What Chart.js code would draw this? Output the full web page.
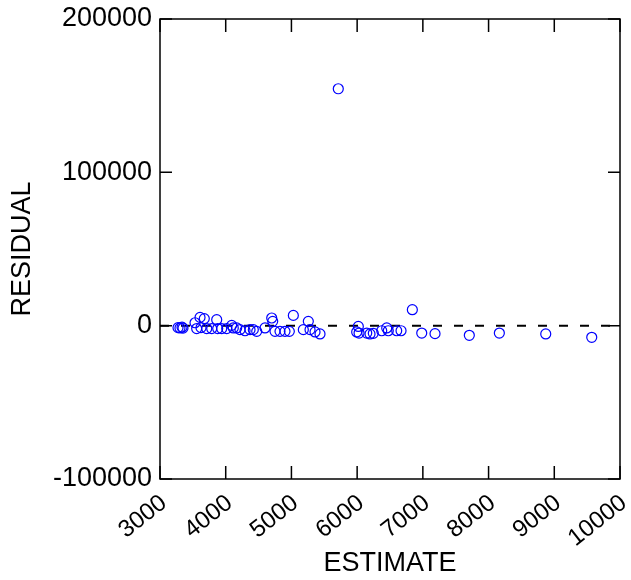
<!DOCTYPE html>
<html>
<head>
<meta charset="utf-8">
<script src="https://cdn.jsdelivr.net/npm/chart.js@4"></script>
<style>
  html, body { margin: 0; padding: 0; background: #fff; }
  canvas { display: block; }
</style>
</head>
<body>
<canvas id="residChart" width="631" height="580"></canvas>
<script>
// data
const estimate = [
  3274, 3304, 3335, 3350, 3533, 3558, 3609, 3674, 3624, 3711,
  3787, 3863, 3878, 3939, 4015, 4091, 4115, 4167, 4217, 4294,
  4370, 4420, 4472, 4598, 4700, 4715, 4750, 4826, 4902, 4968,
  5029, 5181, 5257, 5283, 5359, 5435, 5713, 5993, 6018, 6029,
  6146, 6196, 6246, 6374, 6450, 6474, 6602, 6668, 6840, 6983,
  7185, 7707, 8164, 8870, 9570
];
const residual = [
  -1300, -1500, -1000, -1600, 1900, -1900, 5400, 4600, -1300, -1900,
  -1900, 3900, -1900, -1900, -1900, 200, -1500, -1500, -2600, -3300,
  -2600, -2600, -3700, -1500, 5000, 2800, -3700, -3700, -3700, -3700,
  6700, -2600, 2800, -2600, -4100, -5400, 154500, -4100, -500, -4800,
  -4800, -5400, -5000, -3300, -1500, -3300, -3300, -3300, 10400, -4800,
  -5200, -6300, -4800, -5400, -7600
];
const xTicks = [3000, 10000, 1000];      // min, max, step
const yTicks = [-100000, 200000, 100000];

const points = estimate.map((x, i) => ({ x: x, y: residual[i] }));
const zeroLine = [{ x: xTicks[0], y: 0 }, { x: xTicks[1], y: 0 }];

const FONT = "'Liberation Sans', Arial, sans-serif";

// frame box + inward ticks on all four sides
const framePlugin = {
  id: "frame",
  afterDraw(chart) {
    const { ctx, chartArea: a, scales } = chart;
    ctx.save();
    ctx.strokeStyle = "#000";
    ctx.lineWidth = 1.5;
    ctx.strokeRect(a.left, a.top, a.right - a.left, a.bottom - a.top);
    ctx.beginPath();
    scales.x.ticks.forEach((t) => {
      const px = scales.x.getPixelForValue(t.value);
      ctx.moveTo(px, a.bottom); ctx.lineTo(px, a.bottom - 13);
      ctx.moveTo(px, a.top); ctx.lineTo(px, a.top + 13);
    });
    scales.y.ticks.forEach((t) => {
      const py = scales.y.getPixelForValue(t.value);
      ctx.moveTo(a.left, py); ctx.lineTo(a.left + 12, py);
      ctx.moveTo(a.right, py); ctx.lineTo(a.right - 12, py);
    });
    ctx.stroke();
    ctx.restore();
  },
};

new Chart(document.getElementById("residChart"), {
  type: "scatter",
  data: {
    datasets: [
      {
        label: "RESIDUAL",
        data: points,
        pointStyle: "circle",
        pointRadius: 5,
        pointBorderWidth: 1.2,
        pointBorderColor: "#0000ff",
        pointBackgroundColor: "rgba(0,0,0,0)",
        order: 1,
      },
      {
        type: "line",
        label: "zero",
        data: zeroLine,
        borderColor: "#000",
        borderWidth: 2,
        borderDash: [9, 12],
        pointRadius: 0,
        order: 2,
      },
    ],
  },
  options: {
    responsive: false,
    animation: false,
    layout: { padding: { top: 19, right: 11, bottom: 0, left: 0 } },
    plugins: { legend: { display: false }, tooltip: { enabled: false } },
    scales: {
      x: {
        type: "linear",
        min: xTicks[0],
        max: xTicks[1],
        grid: { display: false, drawTicks: false },
        border: { display: false },
        ticks: {
          stepSize: xTicks[2],
          autoSkip: false,
          maxRotation: 38,
          minRotation: 38,
          padding: 10,
          labelOffset: 4,
          color: "#000",
          font: { family: FONT, size: 24 },
          callback: (v) => String(v),
        },
        title: {
          display: true,
          text: "ESTIMATE",
          color: "#000",
          font: { family: FONT, size: 27 },
          padding: { top: 0, bottom: 0 },
        },
        afterFit(scale) {
          scale.height = 101;
          scale.paddingLeft = 0;
          scale.paddingRight = 0;
        },
      },
      y: {
        type: "linear",
        min: yTicks[0],
        max: yTicks[1],
        grid: { display: false, drawTicks: false },
        border: { display: false },
        ticks: {
          stepSize: yTicks[2],
          padding: 8,
          color: "#000",
          font: { family: FONT, size: 27 },
          callback: (v) => String(v),
        },
        title: {
          display: true,
          text: "RESIDUAL",
          color: "#000",
          font: { family: FONT, size: 27 },
          padding: { top: 6, bottom: 6 },
        },
        afterFit(scale) {
          scale.width = 160;
          scale.paddingTop = 0;
          scale.paddingBottom = 0;
        },
      },
    },
  },
  plugins: [framePlugin],
});
</script>
</body>
</html>
